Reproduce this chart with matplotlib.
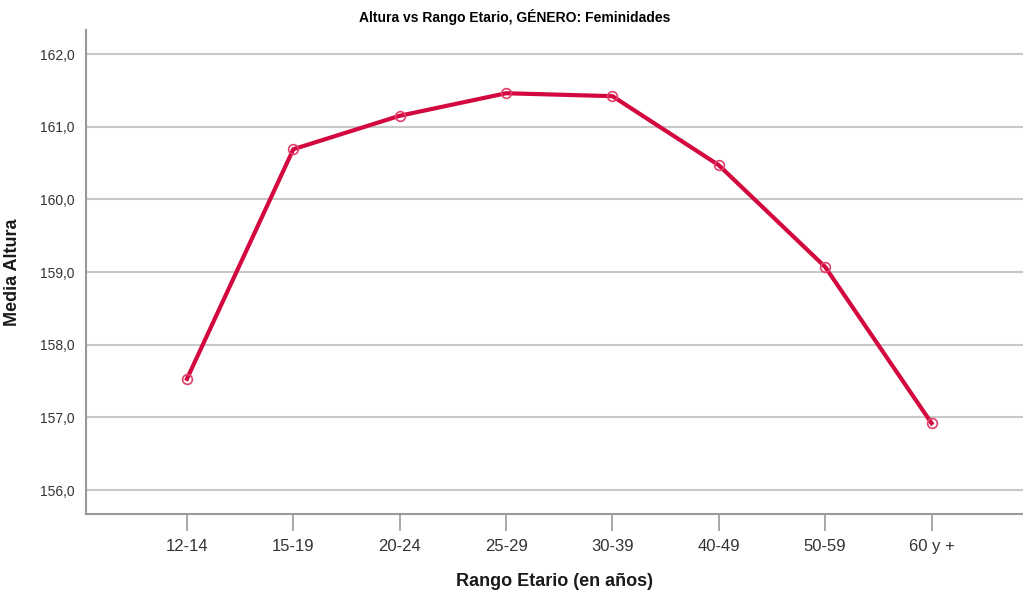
import numpy as np
import matplotlib
matplotlib.use("Agg")
from matplotlib import pyplot as plt
import matplotlib.ticker as mticker

# datos
rangos = ["12-14", "15-19", "20-24", "25-29", "30-39", "40-49", "50-59", "60 y +"]
media_altura = [157.53, 160.69, 161.15, 161.46, 161.42, 160.47, 159.07, 156.92]
y_ticks = [156, 157, 158, 159, 160, 161, 162]

plt.rcParams['font.family'] = ['Liberation Sans', 'DejaVu Sans']

fig = plt.figure(figsize=(10.23, 6.03), dpi=100)
ax = fig.add_axes([0.084, 0.1476, 0.916, 0.8026])

x = np.arange(len(rangos))
color = '#d3083f'
ax.plot(x, media_altura, color=color, lw=3, zorder=3)
ax.plot(x, media_altura, 'o', mfc='none', mec='#e0406a', ms=7, mew=1.2, zorder=4)

ax.set_xlim(-0.95, 7.86)
ax.set_ylim(155.67, 162.33)
ax.set_xticks(x)
ax.set_xticklabels(rangos, fontsize=12, color='#333333')
ax.set_yticks(y_ticks)
ax.yaxis.set_major_formatter(mticker.FuncFormatter(lambda v, p: f"{v:.1f}".replace('.', ',')))
ax.tick_params(axis='y', length=0, labelsize=10, pad=8, labelcolor='#333333')
ax.tick_params(axis='x', length=12, width=1.2, color='#999999', pad=6, direction='out')

ax.grid(axis='y', color='#c8c8c8', lw=1.5)
ax.set_axisbelow(True)
for s in ['top', 'right']:
    ax.spines[s].set_visible(False)
for s in ['left', 'bottom']:
    ax.spines[s].set_color('#999999')
    ax.spines[s].set_linewidth(1.5)

ax.set_xlabel("Rango Etario (en años)", fontsize=13, fontweight='semibold', labelpad=14, color='#1a1a1a')
ax.set_ylabel("Media Altura", fontsize=13, fontweight='bold', labelpad=14, color='#1a1a1a')
fig.text(0.503, 0.972, "Altura vs Rango Etario, GÉNERO: Feminidades", ha='center', va='center',
         fontsize=10, fontweight='bold')

fig.savefig("out.png", dpi=100)
